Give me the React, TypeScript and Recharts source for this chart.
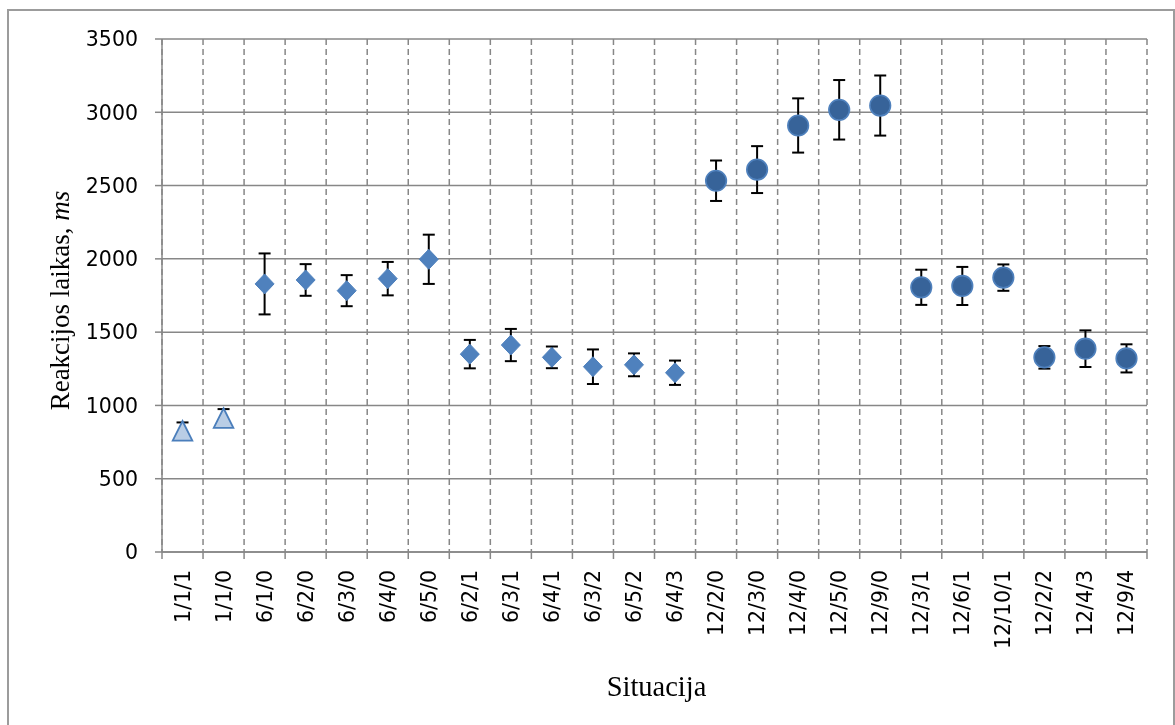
import React from 'react';
import { ScatterChart, Scatter, XAxis, YAxis, CartesianGrid, ErrorBar, Label } from 'recharts';

const categories = [
  '1/1/1', '1/1/0', '6/1/0', '6/2/0', '6/3/0', '6/4/0', '6/5/0', '6/2/1', '6/3/1', '6/4/1', '6/3/2', '6/5/2',
  '6/4/3', '12/2/0', '12/3/0', '12/4/0', '12/5/0', '12/9/0', '12/3/1', '12/6/1', '12/10/1', '12/2/2', '12/4/3', '12/9/4',
];

const triangleCats = ['1/1/1', '1/1/0'];
const triangleMeans = [827, 914];
const triangleErrors = [57, 61];

const diamondCats = ['6/1/0', '6/2/0', '6/3/0', '6/4/0', '6/5/0', '6/2/1', '6/3/1', '6/4/1', '6/3/2', '6/5/2', '6/4/3'];
const diamondMeans = [1829, 1856, 1783, 1865, 1997, 1350, 1412, 1328, 1264, 1277, 1223];
const diamondErrors = [208, 108, 106, 114, 168, 97, 110, 74, 118, 78, 83];

const circleCats = ['12/2/0', '12/3/0', '12/4/0', '12/5/0', '12/9/0', '12/3/1', '12/6/1', '12/10/1', '12/2/2', '12/4/3', '12/9/4'];
const circleMeans = [2533, 2609, 2910, 3017, 3046, 1806, 1815, 1872, 1328, 1387, 1321];
const circleErrors = [138, 160, 185, 203, 205, 120, 130, 90, 77, 125, 96];

const yTicks = [0, 500, 1000, 1500, 2000, 2500, 3000, 3500];

const boundaryTicks = Array.from({ length: categories.length + 1 }, (_, i) => i);
const centerTicks = categories.map((_, i) => i + 0.5);

const toPoints = (cats: string[], means: number[], errs: number[]) =>
  cats.map((c, i) => ({ x: categories.indexOf(c) + 0.5, y: means[i], err: errs[i], name: c }));

const triangleData = toPoints(triangleCats, triangleMeans, triangleErrors);
const diamondData = toPoints(diamondCats, diamondMeans, diamondErrors);
const circleData = toPoints(circleCats, circleMeans, circleErrors);

const GRID = '#878787';
const TICK_FONT = 'DejaVu Sans';
const TITLE_FONT = '"Liberation Serif", "Times New Roman", serif';

const TriangleShape = (p: any) => {
  const { cx, cy } = p;
  const h = 9.8;
  return (
    <polygon
      points={`${cx},${cy - h} ${cx + h},${cy + h} ${cx - h},${cy + h}`}
      fill="#b9cde5"
      stroke="#4a7ebb"
      strokeWidth={1.8}
      strokeLinejoin="miter"
    />
  );
};

const DiamondShape = (p: any) => {
  const { cx, cy } = p;
  const w = 9.5;
  const h = 10;
  return <polygon points={`${cx},${cy - h} ${cx + w},${cy} ${cx},${cy + h} ${cx - w},${cy}`} fill="#4f81bd" stroke="#4f81bd" strokeWidth={1} />;
};

const CircleShape = (p: any) => {
  const { cx, cy } = p;
  return <circle cx={cx} cy={cy} r={10.3} fill="#376399" stroke="#4f81bd" strokeWidth={1.6} />;
};

const EmptyTick = () => <g />;

const CategoryTick = (props: any) => {
  const { x, y, payload } = props;
  const label = categories[Math.floor(payload.value)];
  return (
    <text
      x={x}
      y={y}
      transform={`rotate(-90, ${x}, ${y})`}
      textAnchor="end"
      dominantBaseline="central"
      fontFamily={TICK_FONT}
      fontSize={20.5}
      fill="#000"
    >
      {label}
    </text>
  );
};

const XTitle = (props: any) => {
  const vb = props.viewBox || {};
  const cx = vb.x + vb.width / 2 + 2;
  const y = vb.y + vb.height - 6.5;
  return (
    <text x={cx} y={y} textAnchor="middle" fontFamily={TITLE_FONT} fontSize={28.5} fill="#000">
      Situacija
    </text>
  );
};

const YTitle = (props: any) => {
  const vb = props.viewBox || {};
  const x = vb.x + 61;
  const y = vb.y + vb.height / 2 + 5;
  return (
    <text x={x} y={y} transform={`rotate(-90, ${x}, ${y})`} textAnchor="middle" fontFamily={TITLE_FONT} fontSize={27} fill="#000">
      Reakcijos laikas, <tspan fontStyle="italic">ms</tspan>
    </text>
  );
};

export default function App() {
  return (
    <div style={{ position: 'relative', width: 1159, height: 709 }}>
      <div
        style={{
          position: 'fixed',
          left: 7,
          top: 9,
          width: 1168,
          height: 800,
          boxSizing: 'border-box',
          border: '2px solid #9c9c9c',
          pointerEvents: 'none',
        }}
      />
      <ScatterChart width={1159} height={709} margin={{ top: 31, right: 20, bottom: 15, left: 0 }}>
        <CartesianGrid xAxisId="grid" vertical={false} stroke={GRID} strokeWidth={1.5} />
        <CartesianGrid xAxisId="grid" horizontal={false} stroke={GRID} strokeWidth={1.5} strokeDasharray="6 4" />
        <XAxis
          xAxisId="grid"
          type="number"
          dataKey="x"
          domain={[0, categories.length]}
          ticks={boundaryTicks}
          interval={0}
          tick={<EmptyTick />}
          tickSize={7}
          height={10}
          axisLine={{ stroke: GRID, strokeWidth: 1.5 }}
          tickLine={{ stroke: GRID, strokeWidth: 1.5 }}
          allowDataOverflow
        />
        <XAxis
          xAxisId="lab"
          type="number"
          dataKey="x"
          domain={[0, categories.length]}
          ticks={centerTicks}
          interval={0}
          tick={<CategoryTick />}
          tickSize={0}
          tickMargin={8}
          height={140}
          axisLine={false}
          tickLine={false}
          allowDataOverflow
        >
          <Label content={<XTitle />} />
        </XAxis>
        <YAxis
          type="number"
          dataKey="y"
          domain={[0, 3500]}
          ticks={yTicks}
          interval={0}
          width={154}
          tickSize={7}
          tickMargin={17}
          tick={{ fontFamily: TICK_FONT, fontSize: 20.5, fill: '#000' }}
          axisLine={{ stroke: GRID, strokeWidth: 1.5 }}
          tickLine={{ stroke: GRID, strokeWidth: 1.5 }}
          allowDataOverflow
        >
          <Label content={<YTitle />} />
        </YAxis>
        <Scatter xAxisId="grid" data={triangleData} shape={<TriangleShape />} isAnimationActive={false}>
          <ErrorBar dataKey="err" direction="y" width={6} stroke="#000" strokeWidth={2} isAnimationActive={false} />
        </Scatter>
        <Scatter xAxisId="grid" data={diamondData} shape={<DiamondShape />} isAnimationActive={false}>
          <ErrorBar dataKey="err" direction="y" width={6} stroke="#000" strokeWidth={2} isAnimationActive={false} />
        </Scatter>
        <Scatter xAxisId="grid" data={circleData} shape={<CircleShape />} isAnimationActive={false}>
          <ErrorBar dataKey="err" direction="y" width={6} stroke="#000" strokeWidth={2} isAnimationActive={false} />
        </Scatter>
      </ScatterChart>
    </div>
  );
}
